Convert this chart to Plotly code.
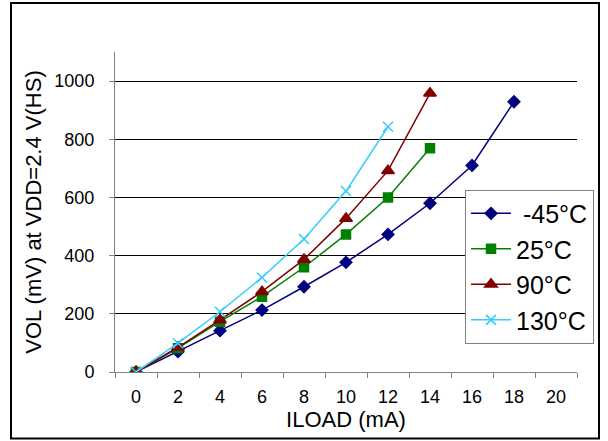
import plotly.graph_objects as go

# ILOAD (mA)
iload = [0, 2, 4, 6, 8, 10, 12, 14, 16, 18]

# VOL (mV) per temperature
vol_m45 = [0, 70, 142, 213, 293, 377, 473, 580, 710, 929]
vol_25 = [0, 82, 173, 259, 360, 473, 600, 769]
vol_90 = [0, 85, 179, 276, 387, 528, 692, 958]
vol_130 = [0, 99, 207, 325, 457, 622, 843]

x_ticks = [0, 2, 4, 6, 8, 10, 12, 14, 16, 18, 20]
y_ticks = [0, 200, 400, 600, 800, 1000]

series = [
    ("\u00a0-45°C", vol_m45, "#000080", "diamond", 9),
    ("25°C", vol_25, "#008000", "square", 9),
    ("90°C", vol_90, "#800000", "triangle-up", 11),
    ("130°C", vol_130, "#33CCFF", "x-thin", 10),
]

fig = go.Figure()
for name, vals, color, symbol, size in series:
    fig.add_trace(go.Scatter(
        x=iload[:len(vals)],
        y=vals,
        name=name,
        mode="lines+markers",
        line=dict(color=color, width=1.5),
        marker=dict(symbol=symbol, size=size, color=color,
                    line=dict(color=color, width=1.5)),
    ))

# outer chart frame
fig.add_shape(type="rect", xref="paper", yref="paper",
              x0=-0.2251, x1=1.0476, y0=-0.2078, y1=1.153,
              line=dict(color="black", width=2), layer="below")

fig.update_layout(
    width=608,
    height=441,
    margin=dict(l=115, r=31, t=52, b=69),
    paper_bgcolor="white",
    plot_bgcolor="white",
    font=dict(family="Liberation Sans, Arial, sans-serif", size=18, color="black"),
    showlegend=True,
    legend=dict(
        x=0.7576, y=0.57, xanchor="left", yanchor="top",
        bordercolor="#808080", borderwidth=1, bgcolor="white",
        font=dict(size=25), itemwidth=40, tracegroupgap=0,
    ),
    xaxis=dict(
        range=[-1, 21],
        tickvals=x_ticks,
        ticks="outside", ticklen=8, tickcolor="rgba(0,0,0,0)",
        showgrid=False,
        zeroline=False,
        automargin=False,
        showline=True, linecolor="#808080", linewidth=1,
        minor=dict(tick0=1, dtick=2, ticks="outside", ticklen=5,
                   tickcolor="#808080", showgrid=False),
        title=dict(text="ILOAD (mA)", standoff=0),
    ),
    yaxis=dict(
        range=[0, 1100],
        tickvals=y_ticks,
        ticks="outside", ticklen=5, tickcolor="#808080",
        ticklabelstandoff=11,
        showgrid=True, gridcolor="black", gridwidth=1,
        zeroline=False,
        automargin=False,
        showline=True, linecolor="#808080", linewidth=1,
        title=dict(text="VOL (mV) at VDD=2.4 V(HS)", standoff=6),
    ),
)

# drop the browser's default page margin so the figure sits at (0, 0)
fig.write_html("out.html", config={"displayModeBar": False},
               post_script="document.body.style.margin='0';")
